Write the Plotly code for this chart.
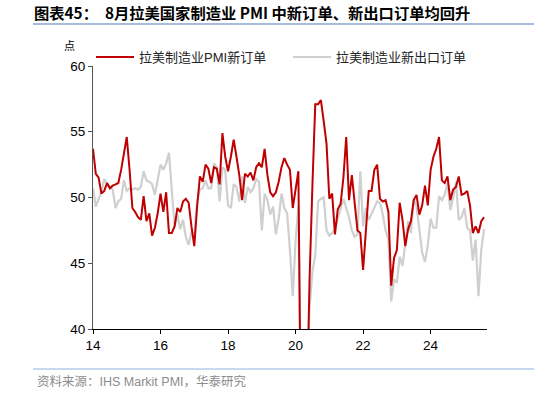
import plotly.graph_objects as go

start_year = 14  # 2014-01
new_orders = [
    53.7, 51.8, 51.5, 50.3, 50.5, 51.1, 50.7, 50.9, 51.0, 51.1, 52.1, 53.5,
    54.6, 52.1, 49.2, 48.9, 48.5, 48.3, 50.1, 48.2, 48.8, 47.1, 47.7, 48.8,
    50.3, 48.9, 50.4, 47.3, 47.3, 47.8, 49.2, 48.9, 49.7, 49.9, 49.6, 47.8,
    46.3, 49.3, 51.6, 51.2, 52.5, 52.2, 51.1, 52.3, 52.2, 51.0, 54.9, 53.1,
    52.0, 53.1, 54.4, 53.1, 51.7, 49.8, 51.8, 51.6, 51.9, 51.3, 52.3, 52.6,
    52.3, 53.7, 51.7, 50.4, 50.1, 50.4, 51.2, 52.3, 53.0, 52.5, 52.1, 49.2,
    50.6, 52.0, 30.0, 28.0, 34.0, 44.0, 51.0, 57.1, 57.1, 57.4, 55.8, 54.1,
    49.9, 50.3, 47.2, 49.1, 49.5, 51.5, 54.6, 49.8, 51.7, 49.8, 47.5, 47.3,
    44.5, 47.5, 50.5, 50.5, 52.1, 52.5, 49.9, 49.7, 49.8, 48.9, 43.3, 45.4,
    46.0, 49.6, 48.3, 46.3, 47.6, 48.2, 49.8, 50.2, 48.7, 49.4, 50.9, 49.4,
    52.1, 53.1, 53.7, 54.6, 51.3, 51.1, 51.6, 49.8, 50.6, 50.8, 51.6, 50.2,
    50.3, 50.5, 49.4, 47.3, 47.8, 47.3, 48.2, 48.5,
]
export_orders = [
    50.7, 49.3, 49.9, 50.4, 51.4, 51.0, 50.8, 50.6, 49.2, 49.7, 49.9, 51.3,
    50.5, 50.7, 50.6, 50.7, 50.6, 50.8, 52.0, 51.3, 51.2, 51.0, 50.2, 51.3,
    52.5, 52.1, 52.6, 53.4, 50.5, 47.8, 48.7, 47.6, 48.3, 47.0, 46.4, 47.4,
    47.0, 49.7, 50.6, 50.7, 51.3, 50.7, 50.7, 52.6, 52.3, 49.7, 52.3, 52.1,
    49.4, 49.2, 51.0, 50.8, 49.7, 51.6, 49.6, 50.8, 50.4, 50.7, 51.4, 51.2,
    47.5, 50.3, 49.8, 48.7, 49.3, 47.2, 48.4, 50.3, 49.2, 48.8, 46.0, 42.5,
    46.7, 49.3, 32.0, 30.0, 36.0, 41.7, 44.4, 45.6, 49.7, 49.9, 50.0, 47.5,
    47.1, 47.3, 47.6, 48.4, 49.3, 49.9, 49.2, 48.5, 47.5, 47.0, 47.2, 52.0,
    47.8, 49.2, 48.3, 48.8, 49.3, 49.7, 49.6, 48.7, 47.5, 46.8, 42.1, 43.8,
    43.5, 45.5, 44.8, 46.6, 48.2, 47.3, 49.9, 49.3, 47.4, 45.8, 45.1, 46.4,
    48.4, 47.7, 47.7, 50.1, 49.8, 50.2, 51.1, 49.05, 50.0, 51.2, 48.3, 48.5,
    49.2, 47.7, 47.5, 45.2, 46.8, 42.5, 46.0, 47.6,
]
x_tick_vals = [14, 16, 18, 20, 22, 24]
x_tick_text = ["14", "16", "18", "20", "22", "24"]
y_tick_vals = [40, 45, 50, 55, 60]

x = [start_year + i / 12 for i in range(len(new_orders))]

fig = go.Figure()
fig.add_trace(go.Scatter(
    x=x, y=export_orders, mode="lines", name="拉美制造业新出口订单",
    line=dict(color="#CFCFCF", width=2.2), legendrank=2,
))
fig.add_trace(go.Scatter(
    x=x, y=new_orders, mode="lines", name="拉美制造业PMI新订单",
    line=dict(color="#C00000", width=2), legendrank=1,
))

font_cjk = "Liberation Sans, Arial, Noto Sans CJK SC, sans-serif"

fig.update_layout(
    width=534, height=393,
    margin=dict(l=93, r=47, t=66, b=64, autoexpand=False),
    paper_bgcolor="white", plot_bgcolor="white",
    font=dict(family=font_cjk, size=13, color="#000000"),
    showlegend=True,
    legend=dict(
        orientation="h", x=-0.005, xanchor="left", y=1.034, yanchor="middle",
        font=dict(size=13, family=font_cjk, color="#222222"),
        entrywidth=144, entrywidthmode="pixels",
        bgcolor="rgba(0,0,0,0)", itemwidth=38, tracegroupgap=0,
    ),
    xaxis=dict(
        range=[14, 25.67], tickvals=x_tick_vals, ticktext=x_tick_text,
        showgrid=False, zeroline=False, showline=True, linecolor="#000000",
        linewidth=1, ticks="outside", ticklen=4, tickcolor="#000000",
        tickfont=dict(size=13.5), fixedrange=True,
    ),
    yaxis=dict(
        range=[40, 60], tickvals=y_tick_vals,
        showgrid=False, zeroline=False, showline=True, linecolor="#555555",
        linewidth=1, ticks="outside", ticklen=4, tickcolor="#555555",
        tickfont=dict(size=13.5), fixedrange=True,
    ),
    title=dict(
        text="<b>图表45：  8月拉美国家制造业 PMI 中新订单、新出口订单均回升</b>",
        x=34 / 534, xanchor="left", y=1 - 14 / 393, yanchor="middle",
        font=dict(size=15.3, family="Noto Sans CJK SC, sans-serif", color="#000000"),
    ),
    annotations=[
        dict(text="点", xref="paper", yref="paper", x=-0.078, y=1.08,
             xanchor="left", yanchor="middle", showarrow=False,
             font=dict(size=11, family="Noto Sans CJK SC", color="#000000")),
        dict(text="资料来源：IHS Markit PMI，华泰研究", xref="paper", yref="paper",
             x=(35 - 93) / 394, y=-(381 - 329) / 263, xanchor="left", yanchor="middle",
             showarrow=False,
             font=dict(size=12.5, family=font_cjk, color="#8C8C8C")),
    ],
    shapes=[
        dict(type="line", xref="paper", yref="paper",
             x0=(33 - 93) / 394, x1=(534 - 93) / 394,
             y0=1 + (66 - 24) / 263, y1=1 + (66 - 24) / 263,
             line=dict(color="#4A78B5", width=1)),
        dict(type="line", xref="paper", yref="paper",
             x0=(33 - 93) / 394, x1=(534 - 93) / 394,
             y0=-(369 - 329) / 263, y1=-(369 - 329) / 263,
             line=dict(color="#8DB3E2", width=1)),
    ],
)

fig.write_html(
    "out.html",
    config={"displayModeBar": False},
    post_script="document.body.style.margin='0';document.body.style.overflow='hidden';",
)
